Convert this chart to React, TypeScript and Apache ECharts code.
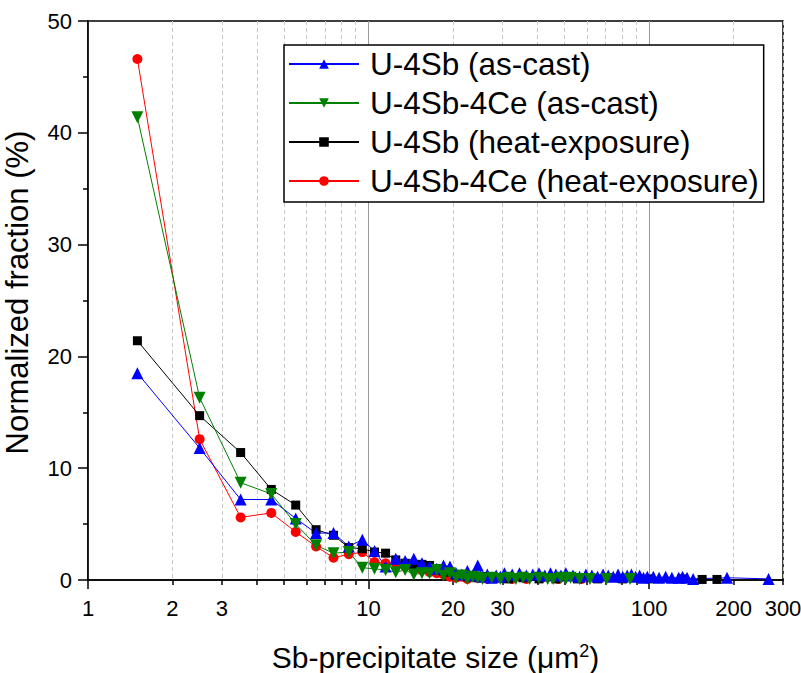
import React, { useEffect, useRef } from "react";
import * as echarts from "echarts";

const seriesNames = [
  "U-4Sb (as-cast)",
  "U-4Sb-4Ce (as-cast)",
  "U-4Sb (heat-exposure)",
  "U-4Sb-4Ce (heat-exposure)",
];

// U-4Sb (as-cast)
const blueX = [
  1.5, 2.5, 3.5, 4.5, 5.5, 6.5, 7.5, 8.5, 9.5,
  10.5, 11.5, 12.5, 13.5, 14.5, 15.5, 16.5, 17.5, 18.5, 19.5,
  20.5, 21.5, 22.5, 23.5, 24.5, 25.5, 26.5, 27.5, 28.5, 29.5,
  30.5, 32.5, 34.5, 36.5, 38.5, 40.5, 42.5, 44.5, 46.5, 48.5,
  50.5,
  53.5, 56.5, 59.5, 62.5, 65.5, 68.5, 71.5, 74.5, 77.5, 80.5, 83.5, 86.5, 89.5, 92.5, 95.5, 98.5,
  103.5, 108.5, 114.5, 120.5, 127.5, 131.5, 136.5, 143.5, 189.5, 266.5,
];
const blueY = [
  18.5, 11.8, 7.2, 7.2, 5.5, 4.2, 4.2, 3.0, 3.6,
  2.6, 1.2, 1.9, 1.7, 1.9, 1.5, 1.2, 1.0, 1.3, 1.2,
  0.6, 0.5, 0.8, 0.4, 1.3, 0.3, 0.5, 0.2, 0.4, 0.3,
  0.6, 0.5, 0.6, 0.4, 0.5, 0.6, 0.4, 0.6, 0.5, 0.4,
  0.6,
  0.4, 0.3, 0.5, 0.4, 0.3, 0.5, 0.4, 0.3, 0.5, 0.3, 0.4, 0.5, 0.3, 0.4, 0.2, 0.3,
  0.3, 0.2, 0.3, 0.2, 0.2, 0.3, 0.2, 0.1, 0.2, 0.1,
];

// U-4Sb-4Ce (as-cast)
const greenX = [
  1.5, 2.5, 3.5, 4.5, 5.5, 6.5, 7.5, 8.5, 9.5,
  10.5, 11.5, 12.5, 13.5, 14.5, 15.5, 16.5, 17.5, 18.5, 19.5,
  20.5, 21.5, 22.5, 23.5, 24.5, 25.5,
  27.5, 29.5, 31.5, 33.5, 35.5, 37.5, 40.5, 43.5, 45.5, 48.5, 50.5, 52.5, 56.5, 61.5, 70.5, 85.5,
];
const greenY = [
  41.4, 16.3, 8.7, 7.7, 5.0, 3.1, 2.4, 2.5, 1.1,
  1.0, 0.9, 0.7, 0.9, 0.5, 0.6, 0.6, 0.9, 0.4, 0.6,
  0.2, 0.4, 0.1, 0.3, 0.2, 0.1,
  0.2, 0.1, 0.2, 0.1, 0.2, 0.1, 0.2, 0.1, 0.1, 0.2, 0.1, 0.2, 0.1, 0.1, 0.1, 0.1,
];

// U-4Sb (heat-exposure)
const blackX = [
  1.5, 2.5, 3.5, 4.5, 5.5, 6.5, 7.5, 8.5, 9.5,
  10.5, 11.5, 12.5, 13.5, 14.5, 15.5, 16.5, 17.5, 18.5, 19.5,
  20.5, 22.5, 24.5, 26.5, 28.5,
  31.5, 35.5, 40.5, 46.5, 55.5, 65.5, 80.5, 100.5, 130.5, 154.5, 174.5,
];
const blackY = [
  21.4, 14.7, 11.4, 8.1, 6.7, 4.5, 4.0, 2.9, 2.8,
  2.5, 2.4, 1.8, 1.5, 1.3, 1.4, 1.3, 1.0, 0.8, 0.7,
  0.4, 0.3, 0.2, 0.3, 0.2,
  0.1, 0.2, 0.1, 0.1, 0.1, 0.1, 0.1, 0.1, 0.1, 0.05, 0.05,
];

// U-4Sb-4Ce (heat-exposure)
const redX = [
  1.5, 2.5, 3.5, 4.5, 5.5, 6.5, 7.5, 8.5, 9.5,
  10.5, 11.5, 12.5, 13.5, 14.5, 15.5, 16.5, 17.5, 18.5, 19.5,
  20.5, 21.5, 22.5, 24.5, 26.5, 29.5, 32.5, 36.5, 41.5, 47.5, 57.5,
];
const redY = [
  46.6, 12.6, 5.6, 6.0, 4.3, 3.0, 2.0, 2.3, 2.5,
  1.6, 1.5, 1.5, 1.2, 1.0, 0.9, 0.7, 0.6, 0.5, 0.3,
  0.2, 0.3, 0.1, 0.2, 0.1, 0.2, 0.1, 0.1, 0.2, 0.1, 0.1,
];

const majorTicks = [1, 10, 100];
const minorTicks = [2, 3, 4, 5, 6, 7, 8, 9, 20, 30, 40, 50, 60, 70, 80, 90, 200, 300];
const xTickLabels = [1, 2, 3, 10, 20, 30, 100, 200, 300];

const FONT = "'Liberation Sans', Arial, Helvetica, sans-serif";

export default function App() {
  const ref = useRef<HTMLDivElement>(null);

  useEffect(() => {
    if (!ref.current) return;
    const chart = echarts.init(ref.current, null, { renderer: "svg" });
    const pairs = (xs: number[], ys: number[]) => xs.map((x, i) => [x, ys[i]]);
    const mk = (
      name: string,
      xs: number[],
      ys: number[],
      color: string,
      symbol: string,
      size: number,
      rotate = 0
    ) => ({
      name,
      type: "line",
      xAxisIndex: 0,
      yAxisIndex: 0,
      data: pairs(xs, ys),
      symbol,
      symbolSize: size,
      symbolRotate: rotate,
      showSymbol: true,
      showAllSymbol: true,
      lineStyle: { color, width: 1 },
      itemStyle: { color },
      emphasis: { disabled: true },
    });

    chart.setOption({
      animation: false,
      grid: {
        left: 88,
        right: 18,
        top: 21,
        bottom: 93,
        containLabel: false,
        outerBoundsMode: "none",
        show: true,
        borderColor: "#000",
        borderWidth: 1.5,
        backgroundColor: "transparent",
      },
      legend: {
        data: seriesNames,
        orient: "vertical",
        left: 284,
        top: 45,
        padding: [3, 5, 5, 4],
        itemWidth: 70,
        itemHeight: 12,
        itemGap: 7,
        backgroundColor: "#fff",
        borderColor: "#000",
        borderWidth: 1.5,
        borderRadius: 0,
        textStyle: {
          fontSize: 31.5,
          fontFamily: FONT,
          color: "#000",
          padding: [0, 0, 0, 6],
        },
      },
      xAxis: [
        {
          type: "log",
          logBase: 10,
          min: 1,
          max: 300,
          gridIndex: 0,
          position: "bottom",
          name: "Sb-precipitate size (μm{s|2})",
          nameLocation: "middle",
          nameGap: 62,
          nameTextStyle: {
            fontSize: 30,
            fontFamily: FONT,
            color: "#000",
            rich: {
              s: { fontSize: 18, fontFamily: FONT, color: "#000", verticalAlign: "top" },
            },
          },
          axisLine: { show: true, onZero: false, lineStyle: { color: "#000", width: 1.5 } },
          axisTick: {
            show: true,
            inside: false,
            length: 9,
            customValues: majorTicks,
            lineStyle: { color: "#000", width: 1.5 },
          },
          minorTick: { show: false },
          axisLabel: {
            customValues: xTickLabels,
            fontSize: 22,
            fontFamily: FONT,
            color: "#000",
            margin: 17,
            formatter: (v: number) => String(Math.round(v)),
          },
          splitLine: { show: true, lineStyle: { color: "#9a9a9a", width: 1 } },
        },
        {
          type: "log",
          logBase: 10,
          min: 1,
          max: 300,
          gridIndex: 0,
          position: "bottom",
          axisLine: { show: false },
          axisTick: {
            show: true,
            inside: false,
            length: 5,
            customValues: minorTicks,
            lineStyle: { color: "#000", width: 1.5 },
          },
          minorTick: { show: false },
          axisLabel: { show: false },
          splitLine: { show: true, lineStyle: { color: "#c8c8c8", width: 1, type: [4, 3] } },
        },
      ],
      yAxis: {
        type: "value",
        min: 0,
        max: 50,
        interval: 10,
        name: "Normalized fraction (%)",
        nameLocation: "middle",
        nameGap: 55,
        nameTextStyle: { fontSize: 31, fontFamily: FONT, color: "#000", padding: [0, 0, 0, 16] },
        axisLine: { show: true, onZero: false, lineStyle: { color: "#000", width: 1.5 } },
        axisTick: { show: true, inside: false, length: 10, lineStyle: { color: "#000", width: 1.5 } },
        minorTick: { show: true, splitNumber: 2, length: 5, lineStyle: { color: "#000", width: 1.5 } },
        axisLabel: { fontSize: 22, fontFamily: FONT, color: "#000", margin: 16 },
        splitLine: { show: false },
      },
      series: [
        mk(seriesNames[3], redX, redY, "#ff0000", "circle", 10),
        mk(seriesNames[2], blackX, blackY, "#000000", "rect", 9),
        mk(seriesNames[0], blueX, blueY, "#0000ff", "triangle", 12),
        mk(seriesNames[1], greenX, greenY, "#008000", "triangle", 12, 180),
      ],
    });

    return () => chart.dispose();
  }, []);

  return (
    <div
      ref={ref}
      style={{ position: "fixed", left: 0, top: 0, width: 801, height: 673, background: "#fff" }}
    />
  );
}
